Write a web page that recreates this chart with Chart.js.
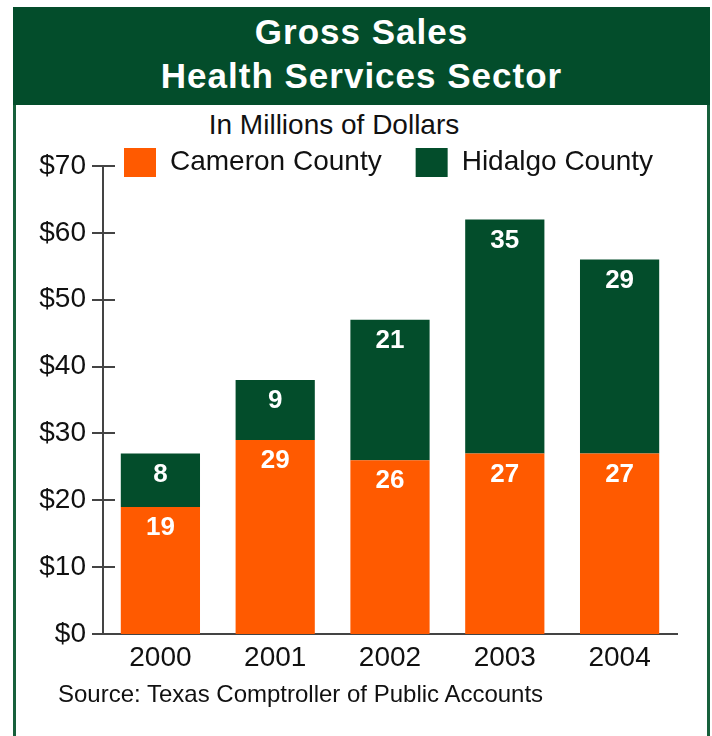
<!DOCTYPE html>
<html>
<head>
<meta charset="utf-8">
<script src="https://cdn.jsdelivr.net/npm/chart.js@4.4.1/dist/chart.umd.min.js"></script>
<style>
  body { margin: 0; background: #fff; font-family: "Liberation Sans", Arial, sans-serif; }
  #wrap { position: relative; width: 712px; height: 736px; overflow: hidden; }
  #frame { position: absolute; left: 13px; top: 7px; width: 697px; height: 740px;
           box-sizing: border-box; border-left: 3px solid #17603c; border-right: 3px solid #17603c; }
  #head { position: absolute; left: 13px; top: 7px; width: 697px; height: 98px; background: #034d2b;
          color: #fff; text-align: center; font-weight: bold; font-size: 35px; letter-spacing: 1px;
          line-height: 44px; padding-top: 3px; box-sizing: border-box; }
  #sub { position: absolute; left: 0; top: 111px; width: 668px; text-align: center;
         font-size: 28px; line-height: 28px; color: #111; }
  #src { position: absolute; left: 58px; top: 682px; font-size: 24px; line-height: 24px; color: #111; }
  canvas { position: absolute; left: 0; top: 0; }
</style>
</head>
<body>
<div id="wrap">
  <div id="frame"></div>
  <div id="head"><div>Gross Sales</div><div>Health Services Sector</div></div>
  <div id="sub">In Millions of Dollars</div>
  <canvas id="sales" width="712" height="736"></canvas>
  <div id="src">Source: Texas Comptroller of Public Accounts</div>
</div>
<script>
// gross sales, millions of dollars
var years = ['2000', '2001', '2002', '2003', '2004'];
var cameron = [19, 29, 26, 27, 27];
var hidalgo = [8, 9, 21, 35, 29];
var yMax = 70;
var yStep = 10;

var ORANGE = '#ff5a00';
var GREEN = '#034d2b';
var AXIS = '#444';

// legend sits over the top of the plot, next to the $70 tick
var legendNudge = {
    id: 'legendNudge',
    afterLayout: function(chart) {
        var lg = chart.legend;
        var pad = lg.options.labels.padding;
        lg.top = 148 - pad;
        lg.bottom = lg.top + lg.height;
        lg.left = 124 - pad;
        lg.right = lg.left + 712;
    }
};

// short tick marks that cross the y axis
var crossTicks = {
    id: 'crossTicks',
    afterDraw: function(chart) {
        var ys = chart.scales.y;
        var ctx = chart.ctx;
        var x0 = ys.right;
        ctx.save();
        ctx.strokeStyle = AXIS;
        ctx.lineWidth = 2;
        ys.ticks.forEach(function(t, i) {
            var y = Math.round(ys.getPixelForTick(i));
            ctx.beginPath();
            ctx.moveTo(x0 - 11, y);
            ctx.lineTo(x0 + 12, y);
            ctx.stroke();
        });
        ctx.restore();
    }
};

// white value labels near the top of each segment
var valueLabels = {
    id: 'valueLabels',
    afterDatasetsDraw: function(chart) {
        var ctx = chart.ctx;
        ctx.save();
        ctx.fillStyle = '#fff';
        ctx.font = 'bold 26px "Liberation Sans", Arial, sans-serif';
        ctx.textAlign = 'center';
        ctx.textBaseline = 'middle';
        chart.data.datasets.forEach(function(ds, di) {
            chart.getDatasetMeta(di).data.forEach(function(bar, i) {
                ctx.fillText(String(ds.data[i]), bar.x, bar.y + 21);
            });
        });
        ctx.restore();
    }
};

var ctx = document.getElementById('sales').getContext('2d');
var salesChart = new Chart(ctx, {
    type: 'bar',
    data: {
        labels: years,
        datasets: [{
            label: 'Cameron County',
            data: cameron,
            backgroundColor: ORANGE,
            borderWidth: 0,
            barPercentage: 0.69,
            categoryPercentage: 1
        }, {
            label: 'Hidalgo County',
            data: hidalgo,
            backgroundColor: GREEN,
            borderWidth: 0,
            barPercentage: 0.69,
            categoryPercentage: 1
        }]
    },
    options: {
        responsive: false,
        animation: false,
        layout: { padding: { top: 93, right: 35, bottom: 0, left: 0 } },
        plugins: {
            title: { display: false },
            tooltip: { enabled: false },
            legend: {
                position: 'top',
                align: 'start',
                labels: {
                    boxWidth: 32,
                    boxHeight: 29,
                    padding: 34,
                    color: '#111',
                    font: { family: '"Liberation Sans", Arial, sans-serif', size: 28 }
                }
            }
        },
        scales: {
            x: {
                stacked: true,
                grid: { display: false, drawTicks: false },
                border: { display: true, color: AXIS, width: 2 },
                ticks: {
                    color: '#111',
                    padding: 7,
                    font: { family: '"Liberation Sans", Arial, sans-serif', size: 28 }
                },
                afterFit: function(s) { s.height = 102; }
            },
            y: {
                stacked: true,
                min: 0,
                max: yMax,
                grid: { display: false, drawTicks: false },
                border: { display: true, color: AXIS, width: 2 },
                ticks: {
                    stepSize: yStep,
                    color: '#111',
                    padding: 17,
                    font: { family: '"Liberation Sans", Arial, sans-serif', size: 28 },
                    callback: function(v) { return '$' + v; }
                },
                afterFit: function(s) { s.width = 103; }
            }
        }
    },
    plugins: [legendNudge, crossTicks, valueLabels]
});
</script>
</body>
</html>
